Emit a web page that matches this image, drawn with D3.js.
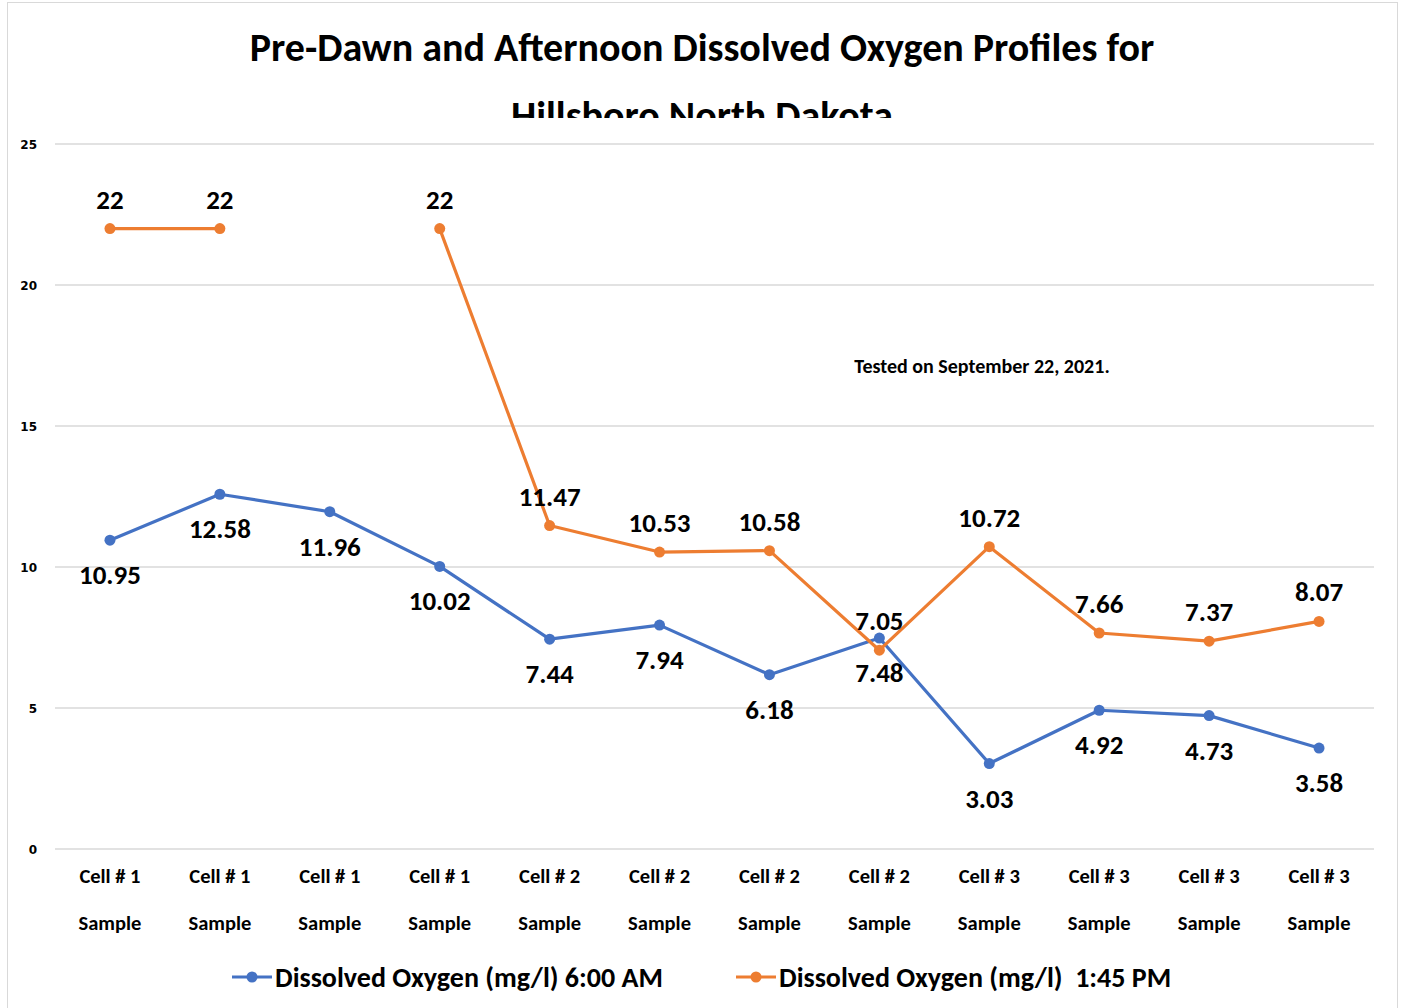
<!DOCTYPE html>
<html>
<head>
<meta charset="utf-8">
<script src="https://cdn.jsdelivr.net/npm/d3@7"></script>
<style>
  body { margin: 0; background: #fff; }
  svg text { font-family: Carlito, "Open Sans", "Liberation Sans", sans-serif; font-weight: bold; fill: #000; }
</style>
</head>
<body>
<div id="chart"></div>
<script>
var categories = ['Cell # 1', 'Cell # 1', 'Cell # 1', 'Cell # 1', 'Cell # 2', 'Cell # 2', 'Cell # 2', 'Cell # 2', 'Cell # 3', 'Cell # 3', 'Cell # 3', 'Cell # 3'];
var morning = [10.95, 12.58, 11.96, 10.02, 7.44, 7.94, 6.18, 7.48, 3.03, 4.92, 4.73, 3.58];
var afternoon = [22, 22, null, 22, 11.47, 10.53, 10.58, 7.05, 10.72, 7.66, 7.37, 8.07];
var yTicks = [0, 5, 10, 15, 20, 25];
var seriesNames = ['Dissolved Oxygen (mg/l) 6:00 AM', 'Dissolved Oxygen (mg/l)  1:45 PM'];
var colors = ['#4472c4', '#ed7d31'];

var W = 1403, H = 1008;
var m = {l: 55, r: 29, t: 144, b: 159};

var svg = d3.select("#chart").append("svg")
    .attr("width", W)
    .attr("height", H);

// frame
svg.append("rect")
    .attr("x", 7.5).attr("y", 2.5)
    .attr("width", 1390).attr("height", 1010)
    .attr("fill", "none")
    .attr("stroke", "#d9d9d9");

// title, second line is cut off in the original
svg.append("clipPath").attr("id", "titleClip")
    .append("rect").attr("x", 0).attr("y", 0).attr("width", W).attr("height", 118);
var title = svg.append("text")
    .attr("clip-path", "url(#titleClip)")
    .attr("text-anchor", "middle")
    .attr("font-size", "40px");
title.append("tspan").attr("x", 702).attr("y", 61).text("Pre-Dawn and Afternoon Dissolved Oxygen Profiles for");
title.append("tspan").attr("x", 702).attr("y", 129).text("Hillsboro North Dakota");

var x = d3.scalePoint()
    .domain(d3.range(categories.length))
    .range([m.l, W - m.r])
    .padding(0.5);

var y = d3.scaleLinear()
    .domain([0, 25])
    .range([H - m.b, m.t]);

// grid + y labels
svg.append("g")
    .selectAll("line")
    .data(yTicks)
    .join("line")
    .attr("x1", m.l).attr("x2", W - m.r)
    .attr("y1", d => y(d)).attr("y2", d => y(d))
    .attr("stroke", "#d9d9d9")
    .attr("stroke-width", 1.3);

svg.append("g")
    .selectAll("text")
    .data(yTicks)
    .join("text")
    .attr("x", 37)
    .attr("y", d => y(d) + 5)
    .attr("text-anchor", "end")
    .style("font-family", "'DejaVu Sans', sans-serif")
    .attr("font-size", "12px")
    .text(d => d);

// x labels
var xl = svg.append("g")
    .selectAll("text")
    .data(categories)
    .join("text")
    .attr("text-anchor", "middle")
    .attr("font-size", "20.5px");
xl.append("tspan").attr("x", (d, i) => x(i)).attr("y", 883).text(d => d);
xl.append("tspan").attr("x", (d, i) => x(i)).attr("y", 930).text("Sample");

var line = d3.line()
    .defined(d => d != null)
    .x((d, i) => x(i))
    .y(d => y(d));

[morning, afternoon].forEach(function(vals, s) {
    svg.append("path")
        .datum(vals)
        .attr("d", line)
        .attr("fill", "none")
        .attr("stroke", colors[s])
        .attr("stroke-width", 3.2)
        .attr("stroke-linejoin", "round");

    var pts = vals.map((v, i) => ({v: v, i: i})).filter(d => d.v != null);

    svg.append("g")
        .selectAll("circle")
        .data(pts)
        .join("circle")
        .attr("cx", d => x(d.i))
        .attr("cy", d => y(d.v))
        .attr("r", 5.5)
        .attr("fill", colors[s]);

    svg.append("g")
        .selectAll("text")
        .data(pts)
        .join("text")
        .attr("x", d => x(d.i))
        .attr("y", d => s == 0 ? y(d.v) + 44 : y(d.v) - 20)
        .attr("text-anchor", "middle")
        .attr("font-size", "27px")
        .text(d => d.v);
});

svg.append("text")
    .attr("x", 982)
    .attr("y", 373)
    .attr("text-anchor", "middle")
    .attr("font-size", "20px")
    .text("Tested on September 22, 2021.");

// legend
var legX = [232, 736];
seriesNames.forEach(function(name, s) {
    var g = svg.append("g").attr("transform", "translate(" + legX[s] + ",977)");
    g.append("line").attr("x1", 0).attr("x2", 40).attr("y1", 0).attr("y2", 0)
        .attr("stroke", colors[s]).attr("stroke-width", 3.2);
    g.append("circle").attr("cx", 20).attr("cy", 0).attr("r", 5.5).attr("fill", colors[s]);
    g.append("text").attr("x", 43).attr("y", 10).attr("font-size", "28px")
        .attr("xml:space", "preserve").style("white-space", "pre")
        .text(name);
});
</script>
</body>
</html>
